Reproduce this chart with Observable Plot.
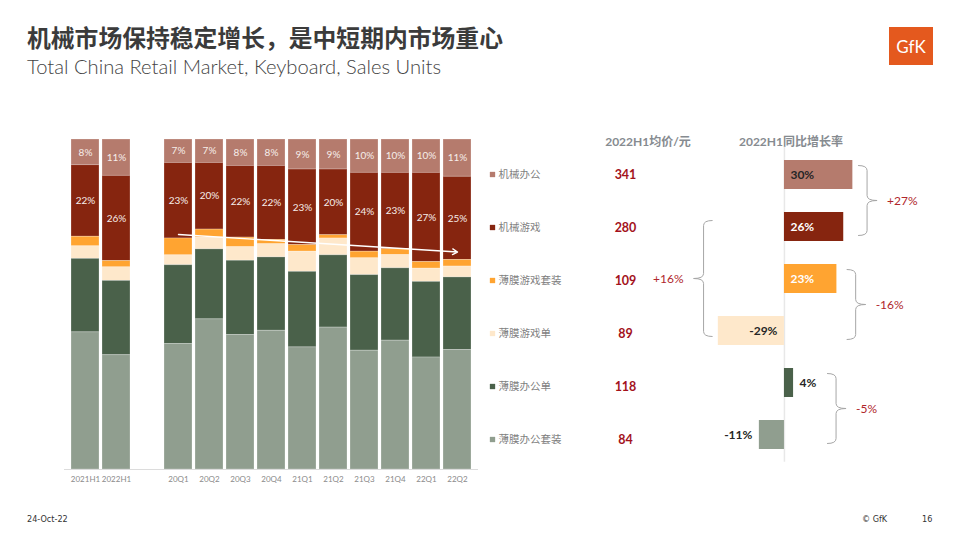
<!DOCTYPE html>
<html><head><meta charset="utf-8">
<script src="https://cdn.jsdelivr.net/npm/d3@7"></script>
<script src="https://cdn.jsdelivr.net/npm/@observablehq/plot@0.6"></script>
<style>
body{margin:0;background:#fff;}
#page{position:relative;width:960px;height:540px;overflow:hidden;font-family:Lato,"Noto Sans CJK SC",sans-serif;background:#fff;}
.abs{position:absolute;white-space:nowrap;line-height:1;}
svg{overflow:visible;}
#title{left:27px;top:25px;font-size:23.8px;font-weight:bold;color:#3b3b3b;font-family:"Noto Sans CJK SC",sans-serif;}
#subtitle{left:27px;top:56px;font-size:20.2px;font-weight:300;color:#444;font-family:Lato,sans-serif;}
.hdr{top:136px;font-size:12px;font-weight:bold;color:#868b90;font-family:Lato,"Noto Sans CJK SC",sans-serif;transform:translateX(-50%);}
#logo{left:889px;top:27px;width:44px;height:38px;background:#e4591e;color:#fff;font-family:Lato,sans-serif;font-size:17px;display:flex;align-items:center;justify-content:center;}
.foot{top:515px;font-size:9px;color:#333;font-family:"Liberation Sans Narrow","DejaVu Sans Condensed",sans-serif;}
</style></head>
<body>
<div id="page">
  <div id="title" class="abs">机械市场保持稳定增长，是中短期内市场重心</div>
  <div id="subtitle" class="abs">Total China Retail Market, Keyboard, Sales Units</div>
  <div id="logo" class="abs">GfK</div>
  <div class="abs hdr" style="left:648px">2022H1均价/元</div>
  <div class="abs hdr" style="left:791px">2022H1同比增长率</div>
  <div class="abs foot" style="left:27px">24-Oct-22</div>
  <div class="abs foot" style="left:862px">© GfK</div>
  <div class="abs foot" style="left:922px">16</div>
</div>
<script>
// ---------- data ----------
const periods = ["2021H1","2022H1","20Q1","20Q2","20Q3","20Q4","21Q1","21Q2","21Q3","21Q4","22Q1","22Q2"];
const axisOrder = ["2021H1","2022H1"," ","20Q1","20Q2","20Q3","20Q4","21Q1","21Q2","21Q3","21Q4","22Q1","22Q2"];
const segments = ["机械办公","机械游戏","薄膜游戏套装","薄膜游戏单","薄膜办公单","薄膜办公套装"];
const labelledSegments = ["机械办公","机械游戏"];
// share of units (%) per period, one array per segment
const mechOffice      = [7.8, 11.0, 7.1, 7.1, 8.0, 8.0, 9.1, 9.1, 10.1, 10.1, 10.1, 11.3];
const mechGaming      = [21.7, 25.8, 22.9, 20.2, 21.7, 22.4, 22.9, 19.9, 23.9, 23.1, 27.0, 25.2];
const memGameSet      = [2.9, 1.9, 5.1, 2.4, 2.9, 1.3, 2.0, 1.0, 2.0, 1.8, 2.0, 2.0];
const memGameSingle   = [3.8, 4.1, 3.0, 3.6, 4.1, 4.0, 6.1, 5.1, 5.1, 4.0, 4.0, 3.3];
const memOfficeSingle = [22.3, 22.5, 23.9, 21.2, 22.5, 22.2, 22.9, 21.9, 22.9, 21.9, 22.9, 22.0];
const memOfficeSet    = [41.6, 34.6, 38.0, 45.5, 40.7, 42.0, 37.0, 43.0, 36.0, 39.0, 33.9, 36.2];
// 2022H1 average price (元) and YoY growth (%)
const prices = [341, 280, 109, 89, 118, 84];
const growth = [30, 26, 23, -29, 4, -11];
// group growth brackets
const groupBrackets = [
  {from:"机械办公", to:"机械游戏", label:"+27%"},
  {from:"薄膜游戏套装", to:"薄膜游戏单", label:"-16%"},
  {from:"薄膜办公单", to:"薄膜办公套装", label:"-5%"},
  {from:"机械游戏", to:"薄膜游戏单", label:"+16%"}
];
// trend arrow (share of stacked height)
const trend = [{from:"20Q1", to:"22Q2", startShare:0.712, endShare:0.659}];

// ---------- styles ----------
const segColors = ["#b57b6d","#86250f","#ffa431","#fee8cb","#4a614a","#909e8f"];
const lightLabel = new Set(["机械游戏","薄膜游戏套装"]);
const bracketLayout = [
  {open:32.5, dir:1, ext:9},
  {open:27.5, dir:1, ext:9},
  {open:18.9, dir:1, ext:9},
  {open:-31.3, dir:-1, ext:6}
];

const page = document.getElementById("page");
function place(el, left, top){ el.style.position="absolute"; el.style.left=left+"px"; el.style.top=top+"px"; page.appendChild(el); }

// ---------- stacked bars ----------
const series = [mechOffice, mechGaming, memGameSet, memGameSingle, memOfficeSingle, memOfficeSet];
const rows = [];
periods.forEach((p,i)=>series.forEach((arr,j)=>rows.push({period:p, segment:segments[j], value:arr[i]})));
const stackOpts = {x:"period", y:"value", z:"segment", order:[...segments].reverse(), offset:"normalize"};

const chartA = Plot.plot({
  width:485, height:362, marginTop:9, marginBottom:23, marginLeft:64, marginRight:7,
  style:{fontFamily:"Lato, sans-serif", fontSize:"8px", color:"#8a8a8a", background:"transparent"},
  x:{domain:axisOrder, padding:0.1, tickSize:0, tickPadding:7, tickFormat:d=>d.trim(), label:null},
  y:{domain:[0,1], axis:null},
  color:{domain:segments, range:segColors},
  marks:[
    Plot.barY(rows, Plot.stackY({...stackOpts, fill:"segment", stroke:"#fff", strokeOpacity:0.3, strokeWidth:0.8})),
    Plot.ruleY([0], {stroke:"#dcdcdc"}),
    Plot.text(rows, Plot.stackY({...stackOpts, text:d=>labelledSegments.includes(d.segment)?`${Math.round(d.value)}%`:"", fill:"#f6eeea", fontSize:10})),
    Plot.arrow(trend, {x1:"from", y1:"startShare", x2:"to", y2:"endShare", stroke:"white", strokeWidth:1.4, headLength:6})
  ]
});
place(chartA, 0, 130);

// ---------- legend + price ----------
const priceRows = segments.map((s,i)=>({segment:s, price:prices[i]}));
const chartB = Plot.plot({
  width:200, height:300, marginTop:13.3, marginBottom:20, marginLeft:0, marginRight:0,
  style:{background:"transparent"},
  x:{type:"point", domain:["key","price"], range:[7,140], padding:0, axis:null},
  y:{type:"point", domain:segments, padding:0, axis:null},
  color:{domain:segments, range:segColors},
  marks:[
    Plot.dot(segments, {x:()=>"key", y:d=>d, symbol:"square", r:3, fill:d=>d}),
    Plot.text(segments, {x:()=>"key", y:d=>d, text:d=>d, textAnchor:"start", dx:6, fill:"#7f7f7f", fontSize:10.5, fontFamily:"'Noto Sans CJK SC', sans-serif"}),
    Plot.text(priceRows, {x:()=>"price", y:"segment", text:"price", fill:"#a3121c", fontSize:12.5, fontWeight:"bold", fontFamily:"Lato, sans-serif"})
  ]
});
place(chartB, 485, 160);

// ---------- growth ----------
const growthRows = segments.map((s,i)=>({segment:s, growth:growth[i]}));
const labelX = d => Math.abs(d.growth) >= 15 ? 0 : d.growth;
const fmt = d => `${d.growth}%`;
function bracketMark(index, scales){
  const {x, y} = scales;
  const bw = typeof y.bandwidth === "function" ? y.bandwidth() : (y.bandwidth || 0);
  const g = d3.create("svg:g");
  groupBrackets.forEach((b,i)=>{
    const {open, dir, ext} = bracketLayout[i];
    const x0 = x(open), x1 = x0 + dir*9, x2 = x1 + dir*10;
    const yt = y(b.from) + bw/2 - ext, yb = y(b.to) + bw/2 + ext, ym = (yt+yb)/2, r = 5;
    const p = `M${x0},${yt} Q${x1},${yt} ${x1},${yt+r} L${x1},${ym-r} Q${x1},${ym} ${x2},${ym} Q${x1},${ym} ${x1},${ym+r} L${x1},${yb-r} Q${x1},${yb} ${x0},${yb}`;
    g.append("path").attr("d",p).attr("fill","none").attr("stroke","#a6a6a6").attr("stroke-width",1);
    g.append("text").attr("x", x2 + dir*10).attr("y", ym).attr("dy","0.35em")
      .attr("text-anchor", dir>0?"start":"end").attr("fill","#b0262c")
      .attr("font-size",12).attr("font-family","Lato, sans-serif").text(b.label);
  });
  return g.node();
}
const chartC = Plot.plot({
  width:270, height:350, marginTop:3.7, marginBottom:5.3, marginLeft:0, marginRight:0,
  style:{background:"transparent", fontFamily:"Lato, sans-serif"},
  x:{domain:[-41.2, 77.2], axis:null},
  y:{domain:segments, padding:0.446, axis:null},
  color:{domain:segments, range:segColors},
  marks:[
    Plot.ruleX([0], {stroke:"#e8e8e8", strokeWidth:1.5, insetTop:13, insetBottom:13}),
    Plot.barX(growthRows, {x:"growth", y:"segment", fill:"segment"}),
    Plot.text(growthRows.filter(d=>d.growth>=0 && lightLabel.has(d.segment)), {x:labelX, y:"segment", text:fmt, textAnchor:"start", dx:6, fill:"#ffffff", fontSize:12, fontWeight:"bold"}),
    Plot.text(growthRows.filter(d=>d.growth>=0 && !lightLabel.has(d.segment)), {x:labelX, y:"segment", text:fmt, textAnchor:"start", dx:6, fill:"#262626", fontSize:12, fontWeight:"bold"}),
    Plot.text(growthRows.filter(d=>d.growth<0), {x:labelX, y:"segment", text:fmt, textAnchor:"end", dx:-7, fill:"#262626", fontSize:12, fontWeight:"bold"}),
    bracketMark
  ]
});
place(chartC, 690, 130);
</script>
</body></html>
